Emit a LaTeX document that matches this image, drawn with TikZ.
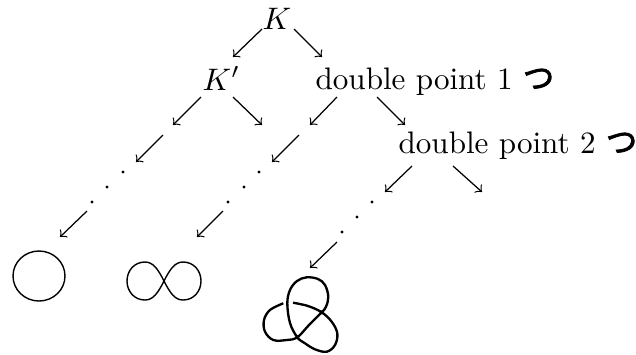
\documentclass[tikz,border=0pt]{standalone}
\usepackage{fontspec}
\newfontfamily\cjk[FakeBold=2.5]{Noto Sans CJK JP}
\begin{document}
\begin{tikzpicture}[x=0.3215pt,y=0.3215pt,
  lbl/.style={inner sep=0pt,anchor=base west},
  arr/.style={->,line width=0.4pt},
  dotmark/.style={fill=black},
  curve/.style={line width=0.45pt},
  knot/.style={line width=0.75pt}]
\useasboundingbox (0,0) rectangle (636,-354);
% labels
\node[lbl] (K) at (262,-29) {$K$};
\node[lbl] (Kp) at (202,-90) {$K'$};
\node[lbl] (dp1) at (315,-89) {double point 1 {\cjk つ}};
\node[lbl] (dp2) at (398,-153) {double point 2 {\cjk つ}};
% arrow endpoints
\coordinate (a1s) at (262,-29); \coordinate (a1e) at (233,-57);
\coordinate (a2s) at (294,-29); \coordinate (a2e) at (322,-57);
\coordinate (a3s) at (201,-97); \coordinate (a3e) at (173,-125);
\coordinate (a4s) at (233,-97); \coordinate (a4e) at (262,-125);
\coordinate (a5s) at (337,-97); \coordinate (a5e) at (310,-125);
\coordinate (a6s) at (377,-97); \coordinate (a6e) at (405,-125);
\coordinate (a7s) at (163,-135); \coordinate (a7e) at (136,-162);
\coordinate (a8s) at (87,-211); \coordinate (a8e) at (60,-237);
\coordinate (a9s) at (299,-135); \coordinate (a9e) at (272,-162);
\coordinate (a10s) at (223,-211); \coordinate (a10e) at (197,-237);
\coordinate (a11s) at (412,-166); \coordinate (a11e) at (385,-192);
\coordinate (a12s) at (453,-166); \coordinate (a12e) at (482,-192);
\coordinate (a13s) at (337,-242); \coordinate (a13e) at (310,-268);
\foreach \i in {1,...,13} {\draw[arr] (a\i s) -- (a\i e);}
% dots
\foreach \p in {(123,-172),(107,-187),(92,-202),(259,-172),(244,-187),(228,-202),(372,-202),(357,-217),(342,-232)}
  {\fill[dotmark] \p circle (1.7);}
% unknot
\draw[curve] (39,-276) ellipse (26 and 25);
% figure eight
\coordinate (e0) at (164,-281);
\draw[curve] (e0) .. controls (170,-269) and (175,-262) .. (183,-262)
  .. controls (194,-262) and (201,-271) .. (201,-281)
  .. controls (201,-291) and (194,-300) .. (183,-300)
  .. controls (175,-300) and (170,-293) .. (e0)
  .. controls (158,-269) and (153,-262) .. (145,-262)
  .. controls (134,-262) and (127,-271) .. (127,-281)
  .. controls (127,-291) and (134,-300) .. (145,-300)
  .. controls (153,-300) and (158,-293) .. (e0);
% trefoil with two double points
\draw[knot] plot[smooth,tension=0.6] coordinates {(293,-302.7) (308,-306) (321.7,-312.3) (331.7,-321.7) (337.3,-333.3) (335,-345) (326.7,-351.7) (315,-349.3) (305,-343.3) (297.3,-337.3) (290,-323) (287.3,-303.3) (290,-290) (297,-281) (306.7,-277.3) (318,-279) (325,-285) (328.3,-296.7) (326,-306.7) (321.7,-312.3) (309,-325) (297.3,-337.3) (286.7,-340) (273.3,-340) (265,-331.7) (264,-320) (270,-310) (283.3,-303.3)};
\fill (321.7,-312.3) circle (2);
\fill (297.3,-337.3) circle (2);
\end{tikzpicture}
\end{document}
